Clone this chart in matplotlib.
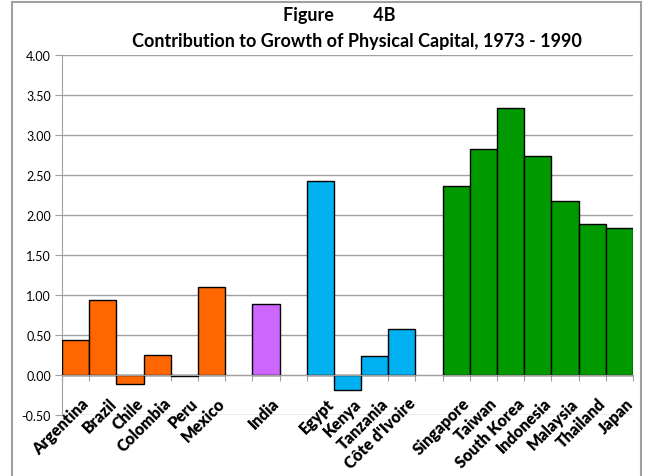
import numpy as np
import matplotlib
matplotlib.use('Agg')
import matplotlib.pyplot as plt
from matplotlib.patches import Rectangle

plt.rcParams['font.family'] = ['Lato', 'DejaVu Sans']

# blank strings are the empty slots between country groups
countries = ['Argentina', 'Brazil', 'Chile', 'Colombia', 'Peru', 'Mexico', '',
             'India', '',
             'Egypt', 'Kenya', 'Tanzania', "Côte d'Ivoire", '',
             'Singapore', 'Taiwan', 'South Korea', 'Indonesia', 'Malaysia', 'Thailand', 'Japan']
values = [0.43, 0.94, -0.12, 0.25, -0.01, 1.10, np.nan,
          0.88, np.nan,
          2.42, -0.19, 0.23, 0.57, np.nan,
          2.36, 2.82, 3.34, 2.74, 2.17, 1.89, 1.83]
groups = ['latam'] * 6 + [''] + ['india'] + [''] + ['africa'] * 4 + [''] + ['asia'] * 7
group_colors = {'latam': '#FF6600', 'india': '#CC66FF', 'africa': '#00B0F0',
                'asia': '#009900', '': 'none'}
yticks = np.arange(-0.5, 4.01, 0.5)

fig = plt.figure(figsize=(6.48, 4.77), dpi=100)
ax = fig.add_axes([62 / 648, 1 - 415.7 / 477, 571 / 648, 360 / 477])

x = np.arange(len(countries))
cols = [group_colors[g] for g in groups]
for xi, v, c in zip(x, values, cols):
    if np.isnan(v):
        continue
    ax.bar(xi, v, width=1.0, color=c, edgecolor='black', linewidth=1.0, zorder=3)

ax.set_xlim(-0.5, len(countries) - 0.5)
ax.set_ylim(-0.5, 4.0)
ax.set_yticks(yticks)
ax.set_yticklabels([f'{t:.2f}' for t in yticks], fontsize=9)
ax.yaxis.grid(True, color='#A0A0A0', linewidth=1.0, zorder=0)

for s in ['top', 'right']:
    ax.spines[s].set_visible(False)
ax.spines['left'].set_color('#A0A0A0')
ax.spines['bottom'].set_position(('data', 0))
ax.spines['bottom'].set_color('#A0A0A0')
ax.spines['bottom'].set_zorder(4)
ax.tick_params(axis='y', length=5, color='#A0A0A0', pad=3)
ax.set_xticks(np.arange(-0.5, len(countries), 1.0))
ax.set_xticklabels([])
ax.tick_params(axis='x', length=4, color='#A0A0A0')

for xi, name in zip(x, countries):
    if name:
        ax.text(xi + 0.2, -0.25, name, rotation=45, ha='right', va='top',
                rotation_mode='anchor', fontsize=11.5, fontweight='heavy')

fig.text(0.523, 1 - 15 / 477, 'Figure         4B', ha='center', va='center',
         fontsize=13, fontweight='bold')
fig.text(0.551, 1 - 41 / 477, 'Contribution to Growth of Physical Capital, 1973 - 1990',
         ha='center', va='center', fontsize=13, fontweight='bold')

fig.patches.append(Rectangle((12 / 648, -0.05), 629 / 648, 1.05 - 2.5 / 477,
                             transform=fig.transFigure, fill=False,
                             edgecolor='#A0A0A0', linewidth=1.5))

fig.savefig('out.png', dpi=100)
